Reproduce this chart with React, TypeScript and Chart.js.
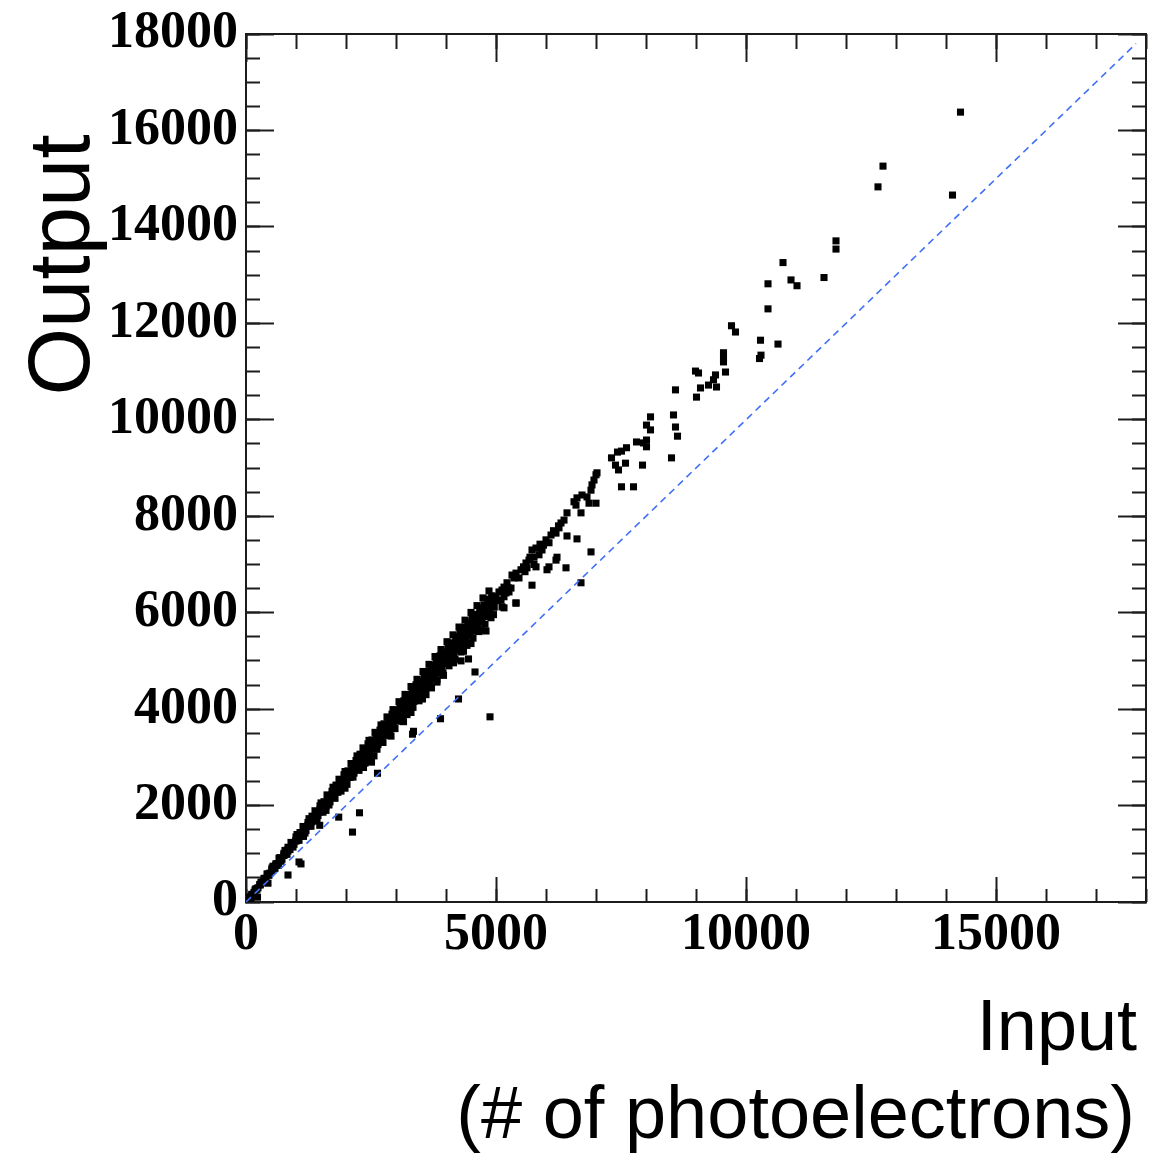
import { useEffect, useRef } from 'react';
import { Chart, registerables } from 'chart.js';

Chart.register(...registerables);

const AXIS_MIN = 0;
const AXIS_MAX = 18000;
const xTickValues = [0, 5000, 10000, 15000];
const yTickValues = [0, 2000, 4000, 6000, 8000, 10000, 12000, 14000, 16000, 18000];
const xMinorStep = 1000;
const yMinorStep = 500;

const X_TITLE = ['Input', '(# of photoelectrons)'];
const Y_TITLE = 'Output';

// y = x reference line end points
const identityLine: [number, number][] = [[0, 0], [17800, 17800]];

// dense band, top fringe
const bandTopEdge: [number, number][] = [
  [60, 85], [180, 248], [300, 412], [420, 580], [540, 742], [660, 908], [780, 1070], [900, 1236],
  [1020, 1400], [1140, 1566], [1260, 1728], [1380, 1892], [1500, 2055], [1620, 2220], [1740, 2380],
  [1860, 2546], [1980, 2705], [2100, 2872], [2220, 3030], [2340, 3196], [2460, 3352], [2580, 3518],
  [2700, 3672], [2820, 3838], [2940, 3990], [3060, 4154], [3180, 4305], [3300, 4468], [3420, 4618],
  [3540, 4780], [3660, 4928], [3780, 5090], [3900, 5236], [4020, 5398], [4140, 5540], [4260, 5702],
  [4380, 5845], [4500, 6005], [4620, 6146], [4740, 6306], [4860, 6450],
];

// dense band, upper row
const bandUpper: [number, number][] = [
  [40, 60], [120, 150], [200, 275], [280, 365], [360, 490], [440, 580], [520, 705], [600, 795],
  [680, 920], [760, 1010], [840, 1135], [920, 1225], [1000, 1350], [1080, 1440], [1160, 1565],
  [1240, 1650], [1320, 1780], [1400, 1865], [1480, 1995], [1560, 2080], [1640, 2210], [1720, 2295],
  [1800, 2425], [1880, 2505], [1960, 2640], [2040, 2720], [2120, 2855], [2200, 2935], [2280, 3065],
  [2360, 3150], [2440, 3280], [2520, 3360], [2600, 3490], [2680, 3565], [2760, 3695], [2840, 3770],
  [2920, 3895], [3000, 3975], [3080, 4100], [3160, 4175], [3240, 4300], [3320, 4380], [3400, 4505],
  [3480, 4580], [3560, 4705], [3640, 4780], [3720, 4905], [3800, 4980], [3880, 5105], [3960, 5180],
  [4040, 5300], [4120, 5375], [4200, 5500], [4280, 5575], [4360, 5695], [4440, 5770], [4520, 5890],
  [4600, 5965], [4680, 6085], [4760, 6160], [4840, 6280], [4920, 6350],
];

// dense band, middle row
const bandMiddle: [number, number][] = [
  [120, 160], [280, 355], [440, 575], [600, 770], [760, 990], [920, 1180], [1080, 1400], [1240, 1595],
  [1400, 1815], [1560, 2005], [1720, 2225], [1880, 2420], [2040, 2640], [2200, 2830], [2360, 3052],
  [2520, 3245], [2680, 3462], [2840, 3655], [3000, 3872], [3160, 4065], [3320, 4282], [3480, 4475],
  [3640, 4690], [3800, 4882], [3960, 5100], [4120, 5292], [4280, 5510], [4440, 5700], [4600, 5920],
  [4760, 6112], [4920, 6330],
  [200, 262], [360, 462], [520, 675], [680, 875], [840, 1088], [1000, 1285], [1160, 1500], [1320, 1700],
  [1480, 1912], [1640, 2112], [1800, 2325], [1960, 2525], [2120, 2738], [2280, 2938], [2440, 3150],
  [2600, 3350], [2760, 3562], [2920, 3762], [3080, 3975], [3240, 4172], [3400, 4385], [3560, 4585],
  [3720, 4798], [3880, 4995], [4040, 5208], [4200, 5405], [4360, 5620], [4520, 5815], [4680, 6030],
  [4840, 6225],
];

// dense band, lower-middle row
const bandMidLow: [number, number][] = [
  [40, 50], [120, 155], [200, 250], [280, 356], [360, 452], [440, 560], [520, 654], [600, 762],
  [680, 856], [760, 965], [840, 1058], [920, 1168], [1000, 1262], [1080, 1370], [1160, 1462],
  [1240, 1574], [1320, 1665], [1400, 1776], [1480, 1868], [1560, 1978], [1640, 2070], [1720, 2182],
  [1800, 2272], [1880, 2384], [1960, 2474], [2040, 2586], [2120, 2676], [2200, 2790], [2280, 2878],
  [2360, 2990], [2440, 3082], [2520, 3194], [2600, 3284], [2680, 3396], [2760, 3486], [2840, 3598],
  [2920, 3688], [3000, 3800], [3080, 3888], [3160, 4000], [3240, 4090], [3320, 4202], [3400, 4290],
  [3480, 4404], [3560, 4492], [3640, 4605], [3720, 4694], [3800, 4806], [3880, 4894], [3960, 5008],
  [4040, 5096], [4120, 5208], [4200, 5296], [4280, 5410], [4360, 5498], [4440, 5610], [4520, 5698],
  [4600, 5812], [4680, 5900], [4760, 6012], [4840, 6100], [4920, 6212],
];

// dense band, lower row
const bandLower: [number, number][] = [
  [80, 95], [160, 200], [240, 295], [320, 400], [400, 492], [480, 600], [560, 690], [640, 798],
  [720, 888], [800, 996], [880, 1088], [960, 1196], [1040, 1285], [1120, 1395], [1200, 1482],
  [1280, 1594], [1360, 1682], [1440, 1792], [1520, 1880], [1600, 1990], [1680, 2078], [1760, 2188],
  [1840, 2276], [1920, 2386], [2000, 2472], [2080, 2584], [2160, 2672], [2240, 2782], [2320, 2868],
  [2400, 2980], [2480, 3066], [2560, 3178], [2640, 3264], [2720, 3374], [2800, 3460], [2880, 3572],
  [2960, 3656], [3040, 3768], [3120, 3852], [3200, 3964], [3280, 4050], [3360, 4162], [3440, 4246],
  [3520, 4358], [3600, 4442], [3680, 4554], [3760, 4638], [3840, 4750], [3920, 4835], [4000, 4946],
  [4080, 5030], [4160, 5142], [4240, 5226], [4320, 5338], [4400, 5420], [4480, 5533], [4560, 5615],
  [4640, 5728], [4720, 5810], [4800, 5922], [4880, 6002], [4960, 6115],
];

// dense band, bottom fringe (ragged)
const bandBottomEdge: [number, number][] = [
  [100, 120], [220, 266], [340, 410], [460, 556], [580, 700], [700, 846], [820, 990], [940, 1140],
  [1060, 1280], [1180, 1430], [1300, 1570], [1420, 1722], [1540, 1862], [1660, 2012], [1780, 2150],
  [1900, 2300], [2020, 2440], [2140, 2590], [2260, 2730], [2380, 2880], [2500, 3020], [2620, 3168],
  [2740, 3308], [2860, 3458], [2980, 3596], [3100, 3748], [3220, 3886], [3340, 4036], [3460, 4172],
  [3580, 4322], [3700, 4460], [3820, 4610], [3940, 4748], [4060, 4898], [4180, 5034], [4300, 5184],
  [4420, 5322], [4540, 5472], [4660, 5608], [4780, 5760], [4900, 5895],
];

// ragged points just under the band
const bandLowerEdge: [number, number][] = [
  [650, 760], [1150, 1360], [1600, 1900], [1980, 2360], [2350, 2790], [2560, 3030], [2900, 3440],
  [3150, 3740], [3300, 3930], [3600, 4300], [3820, 4560], [3950, 4700], [4150, 4960], [4350, 5200],
  [4500, 5360], [4700, 5640], [4950, 5960],
];

// band between 4800 and 7100
const midBand: [number, number][] = [
  [4860, 6200], [4960, 6120], [5120, 6120], [5000, 6330], [4920, 6300], [5100, 6260], [5160, 6330],
  [5200, 6410], [5220, 6620], [5160, 6530], [5120, 6470], [5060, 6430], [5260, 6430], [5300, 6510],
  [5500, 6890], [5400, 6820], [5320, 6780], [5360, 6720], [5460, 6720], [5550, 6950], [5660, 7090],
  [5600, 7030], [5620, 6930], [5680, 7150], [5760, 7000], [5800, 6950], [5920, 7300], [5860, 7200],
  [5800, 7340], [5720, 7300], [5760, 7150], [5950, 7400], [6220, 7150], [6200, 7090], [6060, 6950],
  [6020, 6890], [6200, 7650], [6100, 7610], [6000, 7510], [6060, 7450], [6150, 7700], [6250, 7800],
  [6420, 7590], [6620, 7530], [6420, 8070], [6360, 7920], [6300, 7860], [6260, 7760], [6700, 8070],
  [6820, 8400], [6720, 8440], [6620, 8380], [6560, 8300], [6600, 8230], [6860, 8270], [7000, 8270],
  [7000, 8860], [6960, 8750], [6920, 8650], [6900, 8540], [6900, 7260], [6400, 6930], [6700, 6620],
  [5720, 6570], [5400, 6200], [7020, 8900], [5040, 6250], [5240, 6520], [5580, 6850], [5880, 7420],
];

// sparse points above 7000
const upperScatter: [number, number][] = [
  [7390, 9060], [7450, 8960], [7590, 9100], [7930, 9060], [7510, 8610], [7750, 8610], [7310, 9210],
  [7430, 9330], [7510, 9350], [7610, 9420], [7810, 9540], [7950, 9520], [8010, 9580], [8010, 9440],
  [8010, 9890], [8090, 10060], [8090, 9790], [8510, 9210], [8630, 9660], [8590, 9850], [8550, 10100],
  [8590, 10620], [9010, 10470], [9090, 10660], [9250, 10720], [9390, 10930], [9350, 10830],
  [9410, 10680], [9590, 10990], [8990, 11010], [9050, 10970], [9550, 11390], [9550, 11280],
  [9550, 11200], [9710, 11950], [9790, 11820], [10300, 11340], [10270, 11270], [10290, 11650],
  [10640, 11570], [10440, 12820], [10440, 12300], [10740, 13260], [10900, 12900], [11020, 12780],
  [11560, 12950], [11800, 13710], [11800, 13540], [12640, 14830], [12740, 15260], [14130, 14660],
  [14290, 16380],
];

// points clearly below the band
const outliers: [number, number][] = [
  [100, 55], [230, 100], [440, 390], [840, 560], [1060, 830], [1100, 790], [1475, 1590], [1854, 1760],
  [2130, 1450], [2270, 1850], [2630, 2670], [2510, 2900], [3330, 3480], [3350, 3540], [3530, 4210],
  [3890, 3800], [4250, 4210], [4580, 4770], [4880, 3840], [4300, 5000], [4450, 5040], [4800, 5620],
  [3710, 4440], [4400, 5390], [5160, 6100], [5400, 6200],
];

const FRAME = '#1c1c1c';
const TICK_FONT = { family: '"Liberation Serif", "Times New Roman", serif', size: 52, weight: 'bold' as const };

type Pos = 'left' | 'right' | 'top' | 'bottom';

function makeScale(
  position: Pos,
  cfg: { size: number; weight: number; major: boolean; tickLen: number; values?: number[]; step?: number; labels?: boolean; padding?: number }
) {
  const horizontal = position === 'top' || position === 'bottom';
  const s: any = {
    type: 'linear',
    position,
    axis: horizontal ? 'x' : 'y',
    min: AXIS_MIN,
    max: AXIS_MAX,
    weight: cfg.weight,
    afterFit: (scale: any) => {
      if (horizontal) scale.height = cfg.size;
      else scale.width = cfg.size;
      scale.paddingTop = 0;
      scale.paddingBottom = 0;
      scale.paddingLeft = 0;
      scale.paddingRight = 0;
    },
    border: { display: cfg.major, color: FRAME, width: 2 },
    grid: {
      drawOnChartArea: false,
      drawTicks: true,
      tickLength: -cfg.tickLen,
      tickWidth: 2,
      tickColor: FRAME,
    },
    ticks: {
      display: !!cfg.labels,
      autoSkip: false,
      includeBounds: false,
      maxRotation: 0,
      minRotation: 0,
      padding: cfg.padding ?? 0,
      font: TICK_FONT,
      color: '#000',
      callback: (v: any) => String(v),
    },
  };
  if (cfg.values) {
    const vals = cfg.values;
    s.afterBuildTicks = (scale: any) => {
      scale.ticks = vals.map((v) => ({ value: v }));
    };
  } else if (cfg.step) {
    s.ticks.stepSize = cfg.step;
  }
  return s;
}

const toPoints = (arr: [number, number][]) => arr.map(([x, y]) => ({ x, y }));

const titlePlugin = {
  id: 'axisTitles',
  afterDraw(chart: any) {
    const ctx = chart.ctx as CanvasRenderingContext2D;
    ctx.save();
    ctx.fillStyle = '#000';
    ctx.textBaseline = 'alphabetic';
    ctx.textAlign = 'right';
    ctx.font = '72px "Liberation Sans", Arial, sans-serif';
    ctx.fillText(X_TITLE[0], 1137, 1050);
    ctx.font = '74px "Liberation Sans", Arial, sans-serif';
    ctx.fillText(X_TITLE[1], 1135, 1138);
    ctx.translate(89, 265);
    ctx.rotate(-Math.PI / 2);
    ctx.font = '87px "Liberation Sans", Arial, sans-serif';
    ctx.textAlign = 'center';
    ctx.fillText(Y_TITLE, 0, 0);
    ctx.restore();
  },
};

export default function App() {
  const ref = useRef<HTMLCanvasElement | null>(null);

  useEffect(() => {
    if (!ref.current) return;
    const scatterPoints = [
      ...bandTopEdge,
      ...bandUpper,
      ...bandMiddle,
      ...bandMidLow,
      ...bandLower,
      ...bandBottomEdge,
      ...bandLowerEdge,
      ...midBand,
      ...upperScatter,
      ...outliers,
    ];
    const chart = new Chart(ref.current, {
      type: 'scatter',
      data: {
        datasets: [
          {
            label: 'y = x',
            data: toPoints(identityLine),
            showLine: true,
            borderColor: '#3f70f5',
            borderWidth: 1.6,
            borderDash: [7, 5],
            pointRadius: 0,
            fill: false,
            order: 0,
            xAxisID: 'x',
            yAxisID: 'y',
          } as any,
          {
            label: 'events',
            data: toPoints(scatterPoints),
            pointStyle: 'rect',
            pointRadius: 5,
            pointBackgroundColor: '#000',
            pointBorderWidth: 0,
            borderWidth: 0,
            backgroundColor: '#000',
            order: 1,
            xAxisID: 'x',
            yAxisID: 'y',
          } as any,
        ],
      },
      options: {
        responsive: false,
        animation: false,
        devicePixelRatio: 1,
        layout: { padding: 0 },
        plugins: { legend: { display: false }, tooltip: { enabled: false }, title: { display: false } },
        scales: {
          x: makeScale('bottom', { size: 252, weight: 1, major: true, tickLen: 25, values: xTickValues, labels: true, padding: 27 }),
          xMinor: makeScale('bottom', { size: 0, weight: 0, major: false, tickLen: 13, step: xMinorStep }),
          xTop: makeScale('top', { size: 34, weight: 1, major: true, tickLen: 28, values: xTickValues }),
          xTopMinor: makeScale('top', { size: 0, weight: 0, major: false, tickLen: 15, step: xMinorStep }),
          y: makeScale('left', { size: 246, weight: 1, major: true, tickLen: 28, values: yTickValues, labels: true, padding: 36 }),
          yMinor: makeScale('left', { size: 0, weight: 0, major: false, tickLen: 14, step: yMinorStep }),
          yRight: makeScale('right', { size: 2, weight: 1, major: true, tickLen: 28, values: yTickValues }),
          yRightMinor: makeScale('right', { size: 0, weight: 0, major: false, tickLen: 14, step: yMinorStep }),
        } as any,
      },
      plugins: [titlePlugin],
    });
    return () => chart.destroy();
  }, []);

  return (
    <canvas
      ref={ref}
      width={1151}
      height={1154}
      style={{ position: 'absolute', left: 0, top: 0, width: 1151, height: 1154, background: '#fff' }}
    />
  );
}
